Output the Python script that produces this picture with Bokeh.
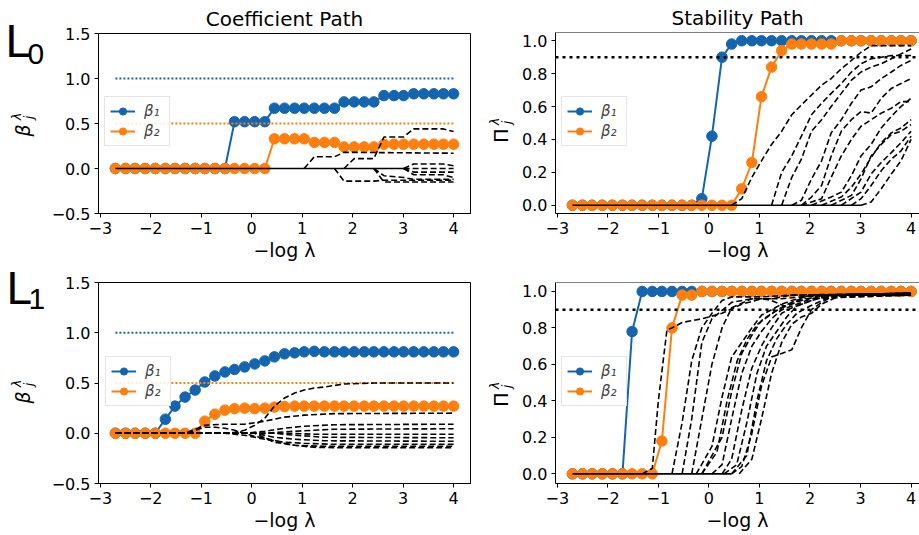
from bokeh.plotting import figure
from bokeh.layouts import column, row
from bokeh.models import Range1d, FixedTicker, Label, Span
from bokeh.embed import file_html
from bokeh.resources import INLINE

# regularisation grid: -log(lambda)
neg_log_lambda = [-2.70, -2.50, -2.31, -2.11, -1.91, -1.71, -1.52, -1.32, -1.12, -0.93,
                  -0.73, -0.53, -0.34, -0.14, 0.06, 0.26, 0.45, 0.65, 0.85, 1.04,
                  1.24, 1.44, 1.64, 1.83, 2.03, 2.23, 2.42, 2.62, 2.82, 3.01,
                  3.21, 3.41, 3.61, 3.80, 4.00]

x_ticks = [-3, -2, -1, 0, 1, 2, 3, 4]
x_tick_labels = ["−3", "−2", "−1", "0", "1", "2", "3", "4"]
coef_ticks = [-0.5, 0.0, 0.5, 1.0, 1.5]
coef_tick_labels = ["−0.5", "0.0", "0.5", "1.0", "1.5"]
stab_ticks = [0.0, 0.2, 0.4, 0.6, 0.8, 1.0]
stab_tick_labels = ["0.0", "0.2", "0.4", "0.6", "0.8", "1.0"]

# true coefficients of the two relevant variables, and the stability threshold
true_beta = [1.0, 0.5]
stability_threshold = 0.9

# ---- L0 penalty ---------------------------------------------------------
l0_coef_beta1 = [0, 0, 0, 0, 0, 0, 0, 0, 0, 0, 0, 0,
                 0.52, 0.52, 0.52, 0.52,
                 0.67, 0.67, 0.67, 0.67, 0.67, 0.67, 0.67,
                 0.74, 0.74, 0.74, 0.74,
                 0.81, 0.81, 0.81,
                 0.83, 0.83, 0.83, 0.83, 0.83]
l0_coef_beta2 = [0, 0, 0, 0, 0, 0, 0, 0, 0, 0, 0, 0, 0, 0, 0, 0,
                 0.33, 0.33, 0.33, 0.33,
                 0.29, 0.29, 0.29,
                 0.24, 0.24, 0.24, 0.24,
                 0.27, 0.27, 0.27, 0.27, 0.27, 0.27, 0.27, 0.27]
l0_stab_beta1 = [0, 0, 0, 0, 0, 0, 0, 0, 0, 0, 0, 0, 0,
                 0.04, 0.42, 0.90, 0.98,
                 1, 1, 1, 1, 1, 1, 1, 1, 1, 1, 1, 1, 1, 1, 1, 1, 1, 1]
l0_stab_beta2 = [0, 0, 0, 0, 0, 0, 0, 0, 0, 0, 0, 0, 0, 0, 0, 0, 0,
                 0.10, 0.26, 0.66, 0.84, 0.94, 0.98, 0.98, 0.98, 0.98, 0.98,
                 1, 1, 1, 1, 1, 1, 1, 1]
# irrelevant variables: (-log lambda, value) vertices after leaving zero
l0_coef_noise = [
    [(1.04, 0), (1.24, 0.13), (1.64, 0.13), (1.83, 0.18), (4.00, 0.17)],
    [(1.83, 0), (2.03, 0.11), (2.42, 0.11), (2.62, 0.35), (3.01, 0.35), (3.21, 0.44), (3.80, 0.44), (4.00, 0.41)],
    [(1.64, 0), (1.83, -0.14), (2.42, -0.14), (2.62, -0.13), (4.00, -0.13)],
    [(2.42, 0), (2.62, -0.08), (3.01, -0.10), (3.21, -0.12), (4.00, -0.12)],
    [(2.42, 0), (2.62, -0.15), (4.00, -0.15)],
    [(3.01, 0), (3.21, 0.05), (3.80, 0.05), (4.00, 0.03)],
    [(3.01, 0), (3.21, -0.04), (4.00, -0.04)],
    [(3.01, 0), (3.21, -0.07), (3.80, -0.07), (4.00, -0.10)],
    [(3.01, 0), (4.00, 0)],
]
l0_coef_zero_until = 3.01
l0_stab_noise = [
    [(0.45, 0), (0.65, 0.04), (0.85, 0.17), (1.04, 0.27), (1.24, 0.37), (1.44, 0.45), (1.64, 0.55), (1.83, 0.61),
     (2.03, 0.67), (2.23, 0.73), (2.42, 0.77), (2.62, 0.83), (2.82, 0.88), (3.01, 0.93), (3.21, 0.97), (4.00, 0.97)],
    [(1.24, 0), (1.44, 0.20), (1.64, 0.30), (1.83, 0.42), (2.03, 0.55), (2.23, 0.62), (2.42, 0.68), (2.62, 0.74),
     (2.82, 0.81), (3.01, 0.86), (3.21, 0.89), (3.61, 0.91), (4.00, 0.91)],
    [(1.44, 0), (1.64, 0.17), (1.83, 0.28), (2.03, 0.45), (2.23, 0.52), (2.42, 0.60), (2.62, 0.68), (2.82, 0.76),
     (3.01, 0.81), (3.21, 0.84), (3.41, 0.86), (3.80, 0.92), (4.00, 0.95)],
    [(1.64, 0), (1.83, 0.03), (2.03, 0.16), (2.23, 0.27), (2.42, 0.44), (2.62, 0.52), (2.82, 0.62), (3.01, 0.70),
     (3.21, 0.72), (3.41, 0.77), (3.61, 0.81), (3.80, 0.85), (4.00, 0.88)],
    [(1.83, 0), (2.03, 0.05), (2.23, 0.12), (2.42, 0.30), (2.62, 0.45), (2.82, 0.52), (3.01, 0.57), (3.21, 0.56),
     (3.41, 0.65), (3.61, 0.71), (3.80, 0.74), (4.00, 0.77)],
    [(1.83, 0), (2.23, 0.04), (2.42, 0.17), (2.62, 0.30), (2.82, 0.40), (3.01, 0.48), (3.21, 0.52), (3.41, 0.56),
     (3.61, 0.59), (3.80, 0.63), (4.00, 0.63)],
    [(2.03, 0), (2.42, 0.05), (2.62, 0.08), (2.82, 0.18), (3.01, 0.30), (3.21, 0.37), (3.41, 0.47), (3.61, 0.54),
     (3.80, 0.60), (4.00, 0.65)],
    [(2.23, 0), (2.62, 0.05), (2.82, 0.11), (3.01, 0.19), (3.21, 0.29), (3.41, 0.38), (3.61, 0.44), (3.80, 0.47),
     (4.00, 0.52)],
    [(2.42, 0), (2.82, 0.06), (3.01, 0.16), (3.21, 0.30), (3.41, 0.37), (3.61, 0.43), (3.80, 0.45), (4.00, 0.49)],
    [(2.62, 0), (3.01, 0.08), (3.21, 0.19), (3.41, 0.26), (3.61, 0.32), (3.80, 0.38), (4.00, 0.45)],
    [(2.82, 0), (3.01, 0.04), (3.21, 0.12), (3.41, 0.21), (3.61, 0.28), (3.80, 0.33), (4.00, 0.42)],
    [(3.01, 0), (3.21, 0.02), (3.41, 0.10), (3.61, 0.19), (3.80, 0.27), (4.00, 0.40)],
]
l0_stab_zero_until = 3.01

# ---- L1 penalty ---------------------------------------------------------
l1_coef_beta1 = [0, 0, 0, 0, 0,
                 0.14, 0.27, 0.36, 0.43, 0.51, 0.57, 0.61, 0.635, 0.66, 0.69,
                 0.72, 0.76, 0.79, 0.80, 0.81, 0.815,
                 0.81, 0.81, 0.81, 0.81, 0.81, 0.81, 0.81, 0.81, 0.81, 0.81, 0.81, 0.81, 0.81, 0.81]
l1_coef_beta2 = [0, 0, 0, 0, 0, 0, 0, 0, 0,
                 0.12, 0.19, 0.23, 0.245, 0.25, 0.245, 0.25, 0.26, 0.265,
                 0.27, 0.27, 0.27, 0.27, 0.27, 0.27, 0.27, 0.27, 0.27, 0.27, 0.27, 0.27, 0.27, 0.27,
                 0.27, 0.27, 0.27]
l1_stab_beta1 = [0, 0, 0, 0, 0, 0,
                 0.78,
                 1, 1, 1, 1, 1, 1, 1, 1, 1, 1, 1, 1, 1, 1, 1, 1, 1, 1, 1, 1, 1, 1, 1, 1, 1, 1, 1, 1]
l1_stab_beta2 = [0, 0, 0, 0, 0, 0, 0, 0, 0,
                 0.18, 0.80, 0.98, 0.98,
                 1, 1, 1, 1, 1, 1, 1, 1, 1, 1, 1, 1, 1, 1, 1, 1, 1, 1, 1, 1, 1, 1]
l1_coef_noise = [
    [(-2.70, 0), (-0.53, 0), (-0.34, 0.01), (-0.14, 0.03), (0.06, 0.08), (0.26, 0.15), (0.45, 0.27), (0.65, 0.35),
     (0.85, 0.40), (1.04, 0.43), (1.24, 0.45), (1.44, 0.46), (1.83, 0.49), (2.42, 0.50), (4.00, 0.50)],
    [(-2.70, 0), (-1.32, 0), (-1.12, 0.04), (-0.93, 0.08), (-0.53, 0.09), (-0.14, 0.09), (0.26, 0.12), (0.65, 0.16),
     (1.04, 0.18), (1.64, 0.195), (4.00, 0.20)],
    [(-2.70, 0), (-0.14, 0), (0.26, 0.02), (0.65, 0.05), (1.04, 0.07), (1.64, 0.085), (4.00, 0.09)],
    [(-2.70, 0), (0.26, 0), (0.85, 0.02), (1.64, 0.04), (4.00, 0.045)],
    [(-2.70, 0), (-1.32, 0), (-1.12, 0.03), (-0.93, 0.06), (-0.73, 0.06), (-0.53, 0.05), (-0.34, 0.03), (-0.14, 0.0),
     (0.06, -0.03), (0.26, -0.05), (0.45, -0.07), (0.65, -0.10), (0.85, -0.12), (1.24, -0.14), (1.83, -0.145),
     (4.00, -0.145)],
    [(-2.70, 0), (-0.53, 0), (-0.14, -0.02), (0.26, -0.06), (0.65, -0.09), (1.04, -0.10), (1.64, -0.11), (4.00, -0.11)],
    [(-2.70, 0), (0.06, 0), (0.45, -0.04), (0.85, -0.06), (1.44, -0.075), (4.00, -0.08)],
    [(-2.70, 0), (0.45, 0), (0.85, -0.02), (1.44, -0.04), (4.00, -0.045)],
    [(-2.70, 0), (0.06, 0), (0.45, -0.09), (0.85, -0.12), (1.44, -0.13), (4.00, -0.13)],
    [(-2.70, 0), (0.65, 0), (1.24, -0.01), (4.00, -0.01)],
]
l1_stab_noise = [
    [(-1.32, 0), (-1.12, 0.03), (-1.00, 0.40), (-0.83, 0.79), (-0.73, 0.80), (-0.53, 0.83), (-0.14, 0.85),
     (0.26, 0.88), (0.65, 0.93), (1.04, 0.96), (1.44, 0.96), (1.83, 0.97), (2.42, 0.98), (4.00, 0.98)],
    [(-0.73, 0), (-0.53, 0.28), (-0.34, 0.62), (-0.14, 0.80), (0.06, 0.88), (0.26, 0.95), (0.45, 0.97),
     (1.04, 0.97), (1.64, 0.98), (4.00, 0.98)],
    [(-0.34, 0), (-0.14, 0.30), (0.06, 0.60), (0.26, 0.80), (0.45, 0.91), (0.85, 0.96), (1.24, 0.96),
     (1.64, 0.98), (4.00, 0.99)],
    [(-0.25, 0), (0.06, 0.15), (0.26, 0.42), (0.45, 0.64), (0.65, 0.72), (0.85, 0.80), (1.04, 0.87), (1.24, 0.90),
     (1.44, 0.93), (1.64, 0.95), (2.03, 0.98), (4.00, 0.99)],
    [(-0.14, 0), (0.26, 0.20), (0.45, 0.45), (0.65, 0.66), (0.85, 0.76), (1.04, 0.84), (1.24, 0.88), (1.44, 0.91),
     (1.83, 0.95), (2.23, 0.98), (4.00, 0.99)],
    [(0.06, 0), (0.26, 0.05), (0.45, 0.30), (0.65, 0.55), (0.85, 0.70), (1.04, 0.78), (1.24, 0.85), (1.44, 0.90),
     (1.64, 0.92), (2.03, 0.96), (2.42, 0.98), (4.00, 0.99)],
    [(0.26, 0), (0.45, 0.08), (0.65, 0.35), (0.85, 0.58), (1.04, 0.70), (1.24, 0.80), (1.44, 0.88), (1.64, 0.91),
     (2.03, 0.95), (2.42, 0.98), (4.00, 0.98)],
    [(0.30, 0), (0.55, 0.05), (0.75, 0.28), (0.95, 0.55), (1.14, 0.70), (1.34, 0.78), (1.54, 0.86), (1.74, 0.92),
     (2.13, 0.96), (2.50, 0.98), (4.00, 0.99)],
    [(0.45, 0), (0.65, 0.04), (0.85, 0.22), (1.04, 0.48), (1.24, 0.64), (1.44, 0.66), (1.64, 0.68), (1.83, 0.80),
     (2.03, 0.90), (2.23, 0.94), (2.42, 0.97), (4.00, 0.98)],
    [(0.60, 0), (0.85, 0.08), (1.04, 0.30), (1.24, 0.55), (1.44, 0.72), (1.64, 0.82), (1.83, 0.86), (2.03, 0.88),
     (2.23, 0.93), (2.62, 0.98), (4.00, 0.99)],
    [(0.45, 0), (0.75, 0.10), (0.95, 0.40), (1.14, 0.62), (1.34, 0.74), (1.54, 0.82), (1.74, 0.88), (2.00, 0.92),
     (2.40, 0.97), (4.00, 0.99)],
    [(-0.14, 0), (0.16, 0.12), (0.36, 0.40), (0.56, 0.62), (0.76, 0.74), (0.96, 0.82), (1.16, 0.86), (1.36, 0.90),
     (1.56, 0.93), (1.90, 0.96), (4.00, 0.98)],
    [(-0.53, 0), (-0.34, 0.30), (-0.14, 0.72), (0.06, 0.85), (0.45, 0.94), (0.85, 0.96), (1.04, 0.96),
     (1.24, 0.95), (1.50, 0.92), (1.64, 0.94), (2.00, 0.98), (4.00, 0.99)],
]
l1_stab_zero_until = 0.45

BLUE = "#1465b0"
ORANGE = "#ff7f0e"
FONT = "DejaVu Sans"
X_START = -3.035
ROT = 1.5708  # text reading bottom-to-top
PAGE_H = 535


def panel(width, height, border, x_end, y_range, ticks, tick_labels, outline=True, title=None, title_offset=0):
    left, right, top, bottom = border
    p = figure(width=width, height=height,
               x_range=Range1d(X_START, x_end), y_range=Range1d(*y_range),
               min_border_left=left, min_border_right=right,
               min_border_top=top, min_border_bottom=bottom,
               output_backend="svg", toolbar_location=None, tools="")
    p.xgrid.visible = False
    p.ygrid.visible = False
    p.background_fill_color = "white"
    p.border_fill_color = "white"
    p.outline_line_color = "black" if outline else None
    p.outline_line_width = 1
    if not outline:
        # top spine only; the right edge of this panel runs past the page
        p.add_layout(Span(location=y_range[1], dimension="width", line_color="black", line_width=1))
    if title:
        p.title.text = title
        p.title.align = "center"
        p.title.text_font = FONT
        p.title.text_font_size = "20px"
        p.title.text_font_style = "normal"
        p.title.text_color = "black"
        p.title.standoff = 6
        p.title.offset = title_offset
    p.xaxis.ticker = FixedTicker(ticks=x_ticks)
    p.xaxis.major_label_overrides = dict(zip(x_ticks, x_tick_labels))
    p.yaxis.ticker = FixedTicker(ticks=ticks)
    p.yaxis.major_label_overrides = dict(zip(ticks, tick_labels))
    for ax in (p.xaxis[0], p.yaxis[0]):
        ax.axis_line_color = "black"
        ax.axis_line_width = 1
        ax.major_tick_line_color = "black"
        ax.major_tick_out = 4
        ax.major_tick_in = 0
        ax.minor_tick_line_color = None
        ax.major_label_text_font = FONT
        ax.major_label_text_font_size = "16px"
        ax.major_label_text_color = "black"
        ax.major_label_standoff = 4
    p.xaxis.axis_label = "−log λ"
    p.xaxis.axis_label_text_font = FONT
    p.xaxis.axis_label_text_font_size = "19px"
    p.xaxis.axis_label_text_font_style = "normal"
    p.xaxis.axis_label_text_color = "black"
    p.xaxis.axis_label_standoff = 2
    return p


def strip(width):
    """Blank full-height canvas whose data units are pixels, for side texts."""
    s = figure(width=width, height=PAGE_H, x_range=Range1d(0, width), y_range=Range1d(0, PAGE_H),
               min_border=0, x_axis_location=None, y_axis_location=None,
               output_backend="svg", toolbar_location=None, tools="")
    s.grid.visible = False
    s.outline_line_color = None
    s.background_fill_color = "white"
    s.border_fill_color = "white"
    return s


def put_text(s, x, y, text, size, **kw):
    # x, y measured from the strip's top-left corner
    opts = dict(text_font=FONT, text_color="black", text_align="center", text_baseline="middle")
    opts.update(kw)
    s.add_layout(Label(x=x, y=PAGE_H - y, text=text, text_font_size=f"{size}px", **opts))


def axis_symbol(s, cx, cy, symbol, style):
    # symbol with subscript j and superscript lambda
    put_text(s, cx, cy, symbol, 19, text_font_style=style, angle=ROT)
    put_text(s, cx - 6, cy - 14, "λ", 13, text_font_style="italic", angle=ROT)
    put_text(s, cx + 6, cy - 13, "j", 13, text_font_style="italic", angle=ROT)


def penalty_name(s, x, y_main, y_sub, sub):
    put_text(s, x, y_main, "L", 46, text_font="Liberation Sans", text_align="left")
    put_text(s, x + 22, y_sub, sub, 30, text_font="Liberation Sans", text_align="left")


def draw_pair(p, beta1, beta2):
    p.line(neg_log_lambda, beta1, line_color=BLUE, line_width=2, legend_label="β₁")
    p.scatter(neg_log_lambda, beta1, marker="circle", size=10.5, fill_color=BLUE, line_color=BLUE,
              legend_label="β₁")
    p.line(neg_log_lambda, beta2, line_color=ORANGE, line_width=2, legend_label="β₂")
    p.scatter(neg_log_lambda, beta2, marker="circle", size=10.5, fill_color=ORANGE, line_color=ORANGE,
              legend_label="β₂")


def draw_noise(p, paths, zero_until=None):
    if zero_until is not None:
        p.line([neg_log_lambda[0], zero_until], [0, 0], line_color="black", line_width=1.6)
    for path in paths:
        xs = [v[0] for v in path]
        ys = [v[1] for v in path]
        p.line(xs, ys, line_color="black", line_width=1.6, line_dash="6 3")


def draw_truth(p):
    span_x = [neg_log_lambda[0], neg_log_lambda[-1]]
    p.line(span_x, [true_beta[0]] * 2, line_color=BLUE, line_width=1.8, line_dash="2 2")
    p.line(span_x, [true_beta[1]] * 2, line_color=ORANGE, line_width=1.8, line_dash="2 2")


def draw_threshold(p):
    p.add_layout(Span(location=stability_threshold, dimension="width", line_color="black",
                      line_width=2.5, line_dash="3 4"))


def style_legend(p, loc):
    lg = p.legend[0]
    lg.location = loc
    lg.margin = 0
    lg.padding = 5
    lg.spacing = 2
    lg.glyph_width = 25
    lg.glyph_height = 18
    lg.label_height = 18
    lg.label_standoff = 9
    lg.label_text_font = FONT
    lg.label_text_font_size = "15px"
    lg.label_text_font_style = "italic"
    lg.border_line_color = "#cccccc"
    lg.border_line_width = 1
    lg.background_fill_alpha = 0.85


# ---- left margin: penalty names and coefficient-axis symbols ------------
side = strip(48)
penalty_name(side, 5, 40, 53, "0")
penalty_name(side, 6, 287, 298, "1")
axis_symbol(side, 22, 130, "β", "italic")
axis_symbol(side, 22, 397, "β", "italic")

# ---- middle margin: stability-axis symbols ------------------------------
mid = strip(30)
axis_symbol(mid, 15, 135, "Π", "normal")
axis_symbol(mid, 15, 399, "Π", "normal")

# ---- L0 row -------------------------------------------------------------
p1 = panel(437, 270, (49, 15, 33, 57), 4.335, (-0.5, 1.5), coef_ticks, coef_tick_labels,
           title="Coefficient Path")
draw_pair(p1, l0_coef_beta1, l0_coef_beta2)
draw_truth(p1)
draw_noise(p1, l0_coef_noise, l0_coef_zero_until)
style_legend(p1, (6, 67))

p2 = panel(404, 270, (40, 0, 32, 57), 4.167, (-0.05, 1.05), stab_ticks, stab_tick_labels,
           outline=False, title="Stability Path", title_offset=4)
draw_pair(p2, l0_stab_beta1, l0_stab_beta2)
draw_noise(p2, l0_stab_noise, l0_stab_zero_until)
draw_threshold(p2)
style_legend(p2, (6, 67))

# ---- L1 row -------------------------------------------------------------
p3 = panel(437, 265, (49, 15, 12, 52), 4.335, (-0.5, 1.5), coef_ticks, coef_tick_labels)
draw_pair(p3, l1_coef_beta1, l1_coef_beta2)
draw_truth(p3)
draw_noise(p3, l1_coef_noise)
style_legend(p3, (7, 77))

p4 = panel(404, 265, (40, 0, 12, 52), 4.167, (-0.053, 1.049), stab_ticks, stab_tick_labels, outline=False)
draw_pair(p4, l1_stab_beta1, l1_stab_beta2)
draw_noise(p4, l1_stab_noise, l1_stab_zero_until)
draw_threshold(p4)
style_legend(p4, (6, 77))

layout = row(side, column(p1, p3), mid, column(p2, p4))
open("out.html", "w").write(file_html(layout, INLINE))
